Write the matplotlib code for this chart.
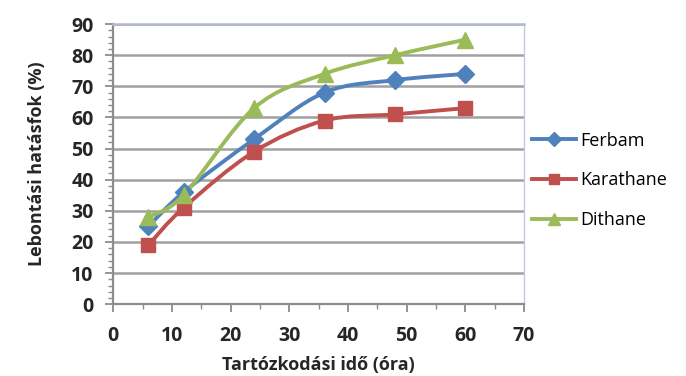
import matplotlib

matplotlib.use("Agg")
import matplotlib.pyplot as plt
import numpy as np
from matplotlib.path import Path
from matplotlib.patches import PathPatch
from matplotlib.lines import Line2D
from matplotlib.ticker import MultipleLocator

plt.rcParams["font.family"] = ["Open Sans", "DejaVu Sans"]
plt.rcParams["font.weight"] = "bold"
plt.rcParams["axes.labelweight"] = "bold"

hours = [6, 12, 24, 36, 48, 60]
ferbam = [25, 36, 53, 68, 72, 74]
karathane = [19, 31, 49, 59, 61, 63]
dithane = [28, 35, 63, 74, 80, 85]

series_names = ["Ferbam", "Karathane", "Dithane"]
x_ticks = [0, 10, 20, 30, 40, 50, 60, 70]
y_ticks = [0, 10, 20, 30, 40, 50, 60, 70, 80, 90]


def smooth_path(xs, ys):
    # Excel-like smoothed line: Catmull-Rom converted to cubic Bezier segments
    pts = np.column_stack([xs, ys]).astype(float)
    verts = [pts[0]]
    codes = [Path.MOVETO]
    n = len(pts)
    for i in range(n - 1):
        p0 = pts[i - 1] if i > 0 else pts[i]
        p1, p2 = pts[i], pts[i + 1]
        p3 = pts[i + 2] if i + 2 < n else pts[i + 1]
        c1 = p1 + (p2 - p0) / 6.0
        c2 = p2 - (p3 - p1) / 6.0
        verts += [c1, c2, p2]
        codes += [Path.CURVE4] * 3
    return Path(verts, codes)


fig = plt.figure(figsize=(6.86, 3.76), dpi=100)
ax = fig.add_axes([0.165, 0.191, 0.599, 0.745])

styles = [
    ("#4F81BD", "D", 9),
    ("#C0504D", "s", 10),
    ("#9BBB59", "^", 11),
]

handles = []
for vals, name, (col, mk, ms) in zip([ferbam, karathane, dithane], series_names, styles):
    ax.add_patch(PathPatch(smooth_path(hours, vals), facecolor="none", edgecolor=col,
                           lw=2.8, zorder=3, capstyle="round", joinstyle="round"))
    ax.plot(hours, vals, linestyle="none", marker=mk, ms=ms, color=col, zorder=4)
    handles.append(Line2D([], [], color=col, lw=2.8, marker=mk, ms=ms * 0.75, label=name))

ax.set_xlim(0, 70)
ax.set_ylim(0, 90)
ax.set_xticks(x_ticks)
ax.set_yticks(y_ticks)
ax.xaxis.set_minor_locator(MultipleLocator(5))
ax.yaxis.set_minor_locator(MultipleLocator(2))
ax.tick_params(axis="both", which="major", labelsize=14, length=6, color="#8c8c8c", width=1.3,
               labelcolor="#262626")
ax.tick_params(axis="y", which="major", pad=8)
ax.tick_params(axis="x", which="major", pad=10)
ax.tick_params(axis="both", which="minor", length=3.5, color="#8c8c8c", width=1)

ax.grid(True, axis="y", which="major", color="#a0a0a0", lw=1.8, zorder=1)
ax.set_axisbelow(True)
for side in ["left", "bottom"]:
    ax.spines[side].set_color("#8c8c8c")
    ax.spines[side].set_linewidth(1.6)
ax.spines["top"].set_color("#b4bad0")
ax.spines["top"].set_linewidth(1.8)
ax.spines["right"].set_color("#c4cadc")
ax.spines["right"].set_linewidth(1.0)

ax.set_xlabel("Tartózkodási idő (óra)", fontsize=13, color="#262626", labelpad=7)
ax.set_ylabel("Lebontási hatásfok (%)", fontsize=13, color="#262626", labelpad=18)

fig.legend(handles=handles, loc="center left", bbox_to_anchor=(0.776, 0.52), frameon=False,
           borderaxespad=0, borderpad=0, prop={"size": 13, "weight": "normal"},
           handlelength=2.4, handletextpad=0.25, labelspacing=1.2)

fig.savefig("out.png", dpi=100)
